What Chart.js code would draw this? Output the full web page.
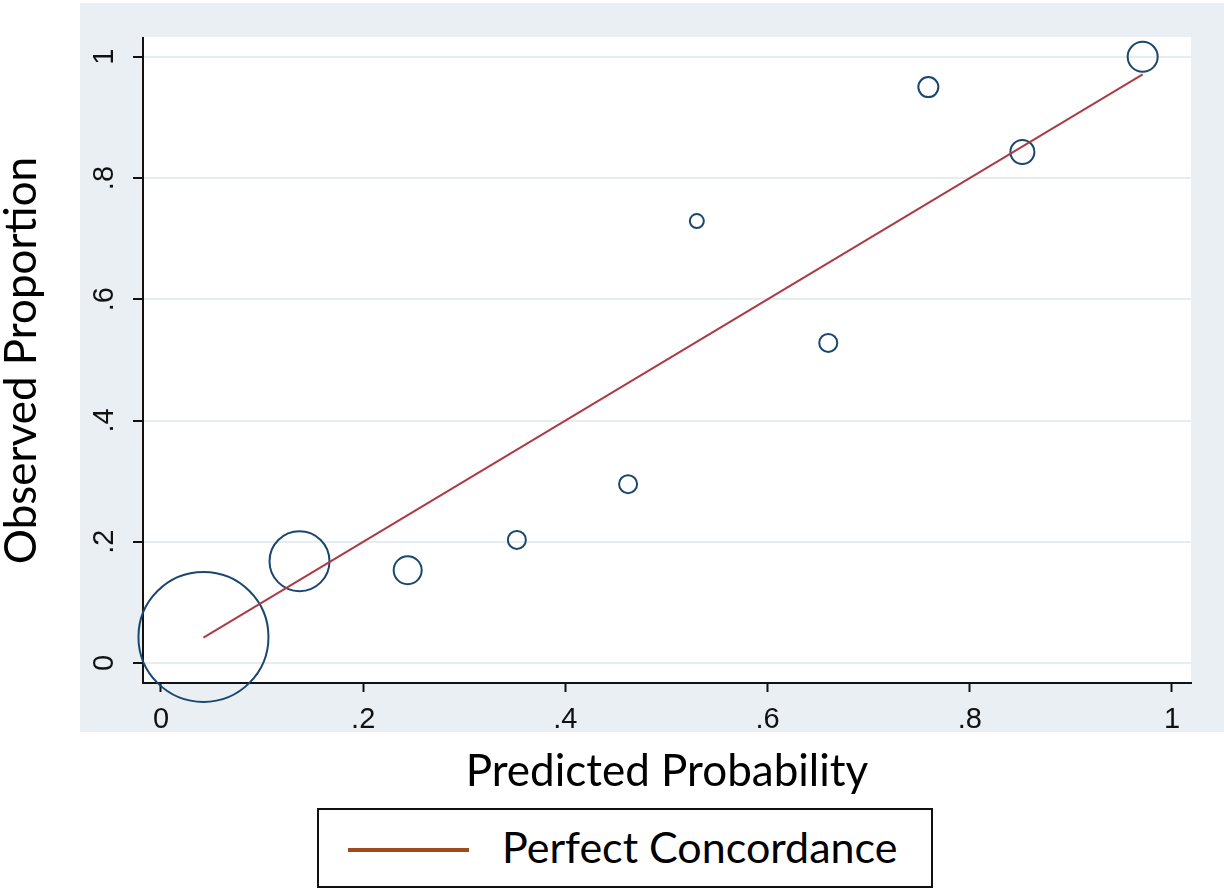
<!DOCTYPE html>
<html>
<head>
<meta charset="utf-8">
<script src="https://cdn.jsdelivr.net/npm/chart.js@4.4.1/dist/chart.umd.min.js"></script>
<style>
  html, body { margin: 0; padding: 0; background: #fff; }
  #wrap { position: relative; width: 1224px; height: 888px; overflow: hidden; }
  #calib { position: absolute; left: 0; top: 0; }
  #legend {
    position: absolute; left: 317px; top: 808px; width: 612px; height: 76px;
    border: 2px solid #111; background: #fff;
    font-family: Lato, sans-serif; font-size: 43px; color: #000;
  }
  #legend .swatch { position: absolute; left: 29px; top: 38px; width: 121px; height: 4px; background: #9e4a1c; }
  #legend .label { position: absolute; left: 183px; top: 12px; line-height: 50px; white-space: nowrap; }
</style>
</head>
<body>
<div id="wrap">
  <canvas id="calib" width="1224" height="888"></canvas>
  <div id="legend"><span class="swatch"></span><span class="label">Perfect Concordance</span></div>
</div>
<script>
// calibration groups: mean predicted probability, observed proportion, marker radius (group size)
const predicted = [0.042, 0.137, 0.244, 0.352, 0.462, 0.530, 0.660, 0.759, 0.852, 0.971];
const observed  = [0.043, 0.168, 0.153, 0.203, 0.295, 0.729, 0.528, 0.950, 0.843, 1.000];
const groupRadius = [65, 30, 14, 9, 9, 7, 9, 10, 12, 15];

const xTicks = [0, 0.2, 0.4, 0.6, 0.8, 1];
const yTicks = [0, 0.2, 0.4, 0.6, 0.8, 1];
const tickLabels = ['0', '.2', '.4', '.6', '.8', '1'];

const navy = '#1a476f';
const maroon = '#ab3b44';

// gray Stata-style frame behind a white plot region
const frameBg = {
  id: 'frameBg',
  beforeDraw(chart) {
    const {ctx, chartArea} = chart;
    ctx.save();
    ctx.fillStyle = '#ffffff';
    ctx.fillRect(0, 0, chart.width, chart.height);
    ctx.fillStyle = '#e9eff2';
    ctx.fillRect(80, 3, chart.width - 80, 729);
    ctx.fillStyle = '#ffffff';
    ctx.fillRect(chartArea.left, chartArea.top - 1, chartArea.right - chartArea.left, chartArea.bottom - chartArea.top + 1);
    ctx.restore();
  }
};

function fmt(v) {
  let i = xTicks.findIndex(t => Math.abs(t - v) < 1e-9);
  return i >= 0 ? tickLabels[i] : '';
}

let ctx = document.getElementById('calib').getContext('2d');
let chart = new Chart(ctx, {
  type: 'bubble',
  data: {
    datasets: [
      {
        type: 'bubble',
        label: 'Groups',
        data: predicted.map((p, i) => ({x: p, y: observed[i], r: groupRadius[i]})),
        borderColor: navy,
        backgroundColor: 'rgba(0,0,0,0)',
        borderWidth: 2,
        clip: false,
        order: 2
      },
      {
        type: 'scatter',
        label: 'Perfect Concordance',
        data: [predicted[0], predicted[predicted.length - 1]].map(p => ({x: p, y: p})),
        showLine: true,
        borderColor: maroon,
        borderWidth: 2,
        pointRadius: 0,
        order: 1
      }
    ]
  },
  options: {
    responsive: false,
    animation: false,
    layout: { autoPadding: false, padding: { top: 38, right: 33, left: 0, bottom: 0 } },
    plugins: { legend: { display: false }, tooltip: { enabled: false } },
    scales: {
      x: {
        type: 'linear',
        min: -0.0178,
        max: 1.0188,
        afterBuildTicks: s => { s.ticks = xTicks.map(v => ({value: v})); },
        afterFit: s => { s.height = 205; },
        grid: { drawOnChartArea: false, drawTicks: true, tickLength: 9, tickWidth: 2, tickColor: '#111' },
        border: { display: true, color: '#111', width: 2 },
        ticks: {
          padding: 11,
          color: '#111',
          font: { family: '"Liberation Sans", Arial, sans-serif', size: 29 },
          maxRotation: 0,
          callback: v => fmt(v)
        },
        title: {
          display: true,
          text: 'Predicted Probability',
          color: '#000',
          font: { family: 'Lato, sans-serif', size: 44, lineHeight: 1 },
          padding: { top: 0, bottom: 94 }
        }
      },
      y: {
        type: 'linear',
        min: -0.033,
        max: 1.031,
        afterBuildTicks: s => { s.ticks = yTicks.map(v => ({value: v})); },
        afterFit: s => { s.width = 143; },
        grid: { color: '#e6edf0', lineWidth: 2, drawTicks: true, tickLength: 10, tickWidth: 2, tickColor: '#111' },
        border: { display: true, color: '#111', width: 2 },
        ticks: {
          padding: 16,
          color: '#111',
          crossAlign: 'center',
          minRotation: 90,
          maxRotation: 90,
          font: { family: '"Liberation Sans", Arial, sans-serif', size: 29 },
          callback: v => fmt(v)
        },
        title: {
          display: true,
          text: 'Observed Proportion',
          color: '#000',
          font: { family: 'Lato, sans-serif', size: 44, lineHeight: 1 },
          padding: { top: 0, bottom: 0 }
        }
      }
    }
  },
  plugins: [frameBg]
});
</script>
</body>
</html>
